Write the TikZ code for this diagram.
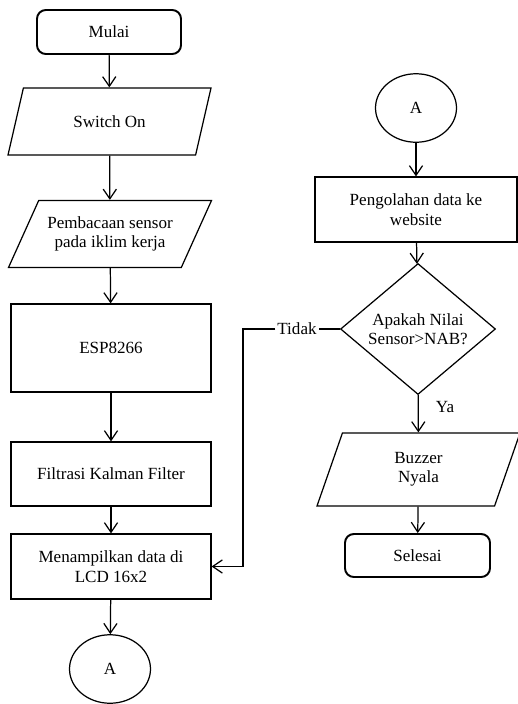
\documentclass[tikz,border=0pt]{standalone}
\usepackage{fontspec}
\setmainfont{Liberation Serif}
\usepackage{xcolor}
\usepackage{tikz}
\usetikzlibrary{shapes.geometric, arrows.meta, positioning, calc}
\tikzset{
    terminal/.style={
        rectangle, draw=black, rounded corners=5pt,
        minimum width=2.88cm, minimum height=0.88cm,
        text centered, font=\fontsize{9.7}{11}\selectfont,
        line width=1.1pt,
    },
    proses/.style={
        rectangle, draw=black,
        minimum width=4cm, minimum height=1.3cm,
        text centered, align=center,
        font=\fontsize{9.7}{11}\selectfont,
        line width=0.7pt,
    },
    io/.style={
        trapezium, draw=black,
        trapezium left angle=57, trapezium right angle=123,
        trapezium stretches body,
        minimum width=4.06cm, minimum height=1.34cm,
        inner xsep=0pt, text centered, align=center,
        font=\fontsize{9.7}{11}\selectfont,
        line width=0.7pt,
    },
    keputusan/.style={
        diamond, draw=black, inner sep=0pt,
        minimum width=3.1cm, minimum height=2.44cm,
        text centered, align=center,
        font=\fontsize{9.7}{11}\selectfont,
        line width=0.7pt,
    },
    konektor/.style={
        ellipse, draw=black,
        minimum width=1.62cm, minimum height=1.37cm,
        text centered, font=\fontsize{9.7}{11}\selectfont,
        line width=0.7pt,
    },
    ket/.style={
        inner sep=1pt, font=\fontsize{9.7}{11}\selectfont,
    },
    arr/.style={
        -{Straight Barb[length=5.5pt, width=7.5pt]}, line width=0.7pt, color=black
    },
    garis/.style={
        line width=0.7pt, color=black
    },
}

\begin{document}
\begin{tikzpicture}

    \useasboundingbox (0, 0) rectangle (10.36, -14.08);

    % ── Kolom kiri ──
    \node[terminal] (mulai)    at (2.18, -0.64)  {Mulai};
    \node[io]       (switch)   at (2.19, -2.43)  {Switch On};
    \node[io]       (baca)     at (2.2, -4.68)   {Pembacaan sensor\\pada iklim kerja};
    \node[proses, minimum height=1.76cm] (esp) at (2.22, -6.96) {ESP8266};
    \node[proses, minimum height=1.28cm] (filter) at (2.22, -9.48) {Filtrasi Kalman Filter};
    \node[proses]   (tampil)   at (2.22, -11.33) {Menampilkan data di\\LCD 16x2};
    \node[konektor] (konA)     at (2.2, -13.38)  {A};

    % ── Kolom kanan ──
    \node[konektor] (konB)     at (8.32, -2.16)  {A};
    \node[proses, minimum width=4.04cm] (olah) at (8.32, -4.19) {Pengolahan data ke\\website};
    \node[keputusan] (nilai)   at (8.36, -6.58)  {Apakah Nilai\\Sensor>NAB?};
    \node[io, trapezium left angle=61, trapezium right angle=119,
          minimum height=1.46cm] (buzzer) at (8.37, -9.39) {Buzzer\\Nyala};
    \node[terminal, minimum width=2.9cm, minimum height=0.86cm] (selesai) at (8.35, -11.11) {Selesai};

    % ── Label cabang ──
    \node[ket] (tidak) at (5.94, -6.58) {Tidak};
    \node[ket] (ya)    at (8.9, -8.14)  {Ya};
    \coordinate (belok) at (4.86, -6.58);

    % ── Panah kolom kiri ──
    \draw[arr] (mulai)  -- (switch);
    \draw[arr] (switch) -- (baca);
    \draw[arr] (baca)   -- (esp);
    \draw[arr] (esp)    -- (filter);
    \draw[arr] (filter) -- (tampil);
    \draw[arr] (tampil) -- (konA);

    % ── Panah kolom kanan ──
    \draw[arr] (konB)   -- (olah);
    \draw[arr] (olah)   -- (nilai);
    \draw[arr] (nilai)  -- (buzzer);
    \draw[arr] (buzzer) -- (selesai);

    % ── Cabang Tidak ──
    \draw[garis] (nilai.west) -- (tidak.east);
    \draw[arr] (tidak.west) -- (belok) |- (tampil.east);

\end{tikzpicture}
\end{document}
